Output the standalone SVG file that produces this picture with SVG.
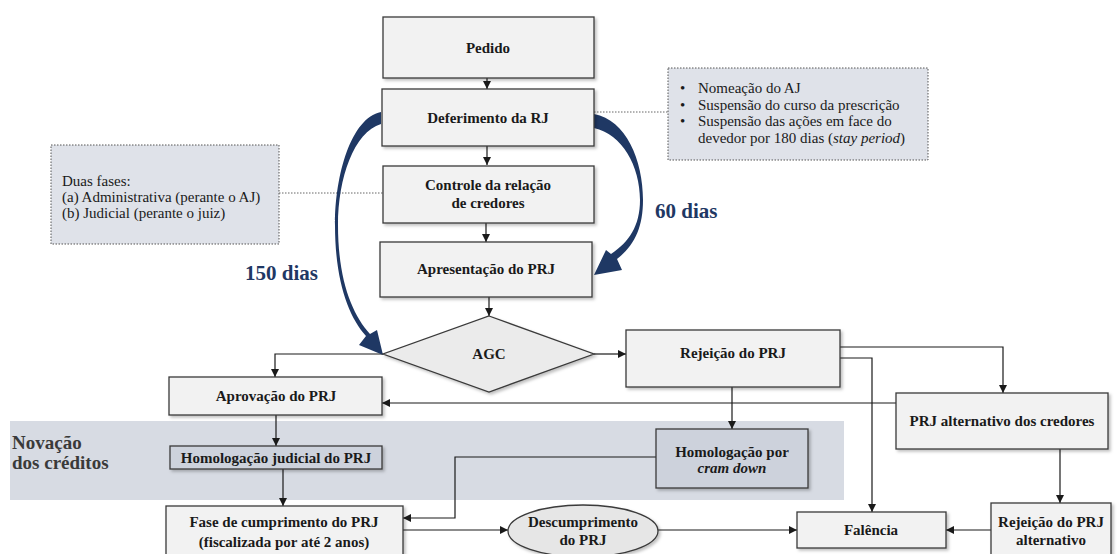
<svg xmlns="http://www.w3.org/2000/svg" width="1118" height="554" viewBox="0 0 1118 554">
<style>
.bx{fill:#f2f2f2;stroke:#3a3a3a;stroke-width:1.3;filter:url(#sh)}
.dk{fill:#cdd2dc;stroke:#3a3a3a;stroke-width:1.3;filter:url(#sh)}
.info{fill:#dfe2e9;stroke:#555;stroke-width:1;stroke-dasharray:1.5 1.5}
.t{font-family:"Liberation Serif",serif;font-weight:bold;font-size:15px;fill:#1a1a1a;text-anchor:middle}
.ti{font-family:"Liberation Serif",serif;font-size:15px;fill:#1a1a1a}
.big{font-family:"Liberation Serif",serif;font-weight:bold;font-size:21px;fill:#1f3864}
.nov{font-family:"Liberation Serif",serif;font-weight:bold;font-size:19px;fill:#3a3a3a}
.ln{fill:none;stroke:#1a1a1a;stroke-width:1.2}
.dot{fill:none;stroke:#666;stroke-width:1;stroke-dasharray:1.5 1.5}
.cv{fill:#1f3864}
</style>
<defs>
<filter id="sh" x="-10%" y="-20%" width="130%" height="150%">
<feDropShadow dx="2" dy="2" stdDeviation="1.5" flood-color="#000" flood-opacity="0.25"/>
</filter>
<marker id="ah" markerUnits="userSpaceOnUse" markerWidth="9" markerHeight="9" refX="8" refY="4" orient="auto">
<path d="M0,0 L8,4 L0,8 z" fill="#1a1a1a"/>
</marker>
</defs>
<rect x="0" y="0" width="1118" height="554" fill="#fff"/>

<g id="band">
<rect x="10" y="421" width="834" height="79" fill="#d7dbe3"/>
<text class="nov" x="12" y="449">Novação</text>
<text class="nov" x="12" y="469">dos créditos</text>
</g>

<g id="info-right">
<rect class="info" x="668" y="68" width="260" height="92"/>
<text class="ti" x="680" y="93">•</text>
<text class="ti" x="680" y="110">•</text>
<text class="ti" x="680" y="126">•</text>
<text class="ti" x="698" y="93">Nomeação do AJ</text>
<text class="ti" x="698" y="110">Suspensão do curso da prescrição</text>
<text class="ti" x="698" y="126">Suspensão das ações em face do</text>
<text class="ti" x="698" y="143">devedor por 180 dias (<tspan font-style="italic">stay period</tspan>)</text>
</g>

<g id="info-left">
<rect class="info" x="51" y="145" width="228" height="99"/>
<text class="ti" x="62" y="186">Duas fases:</text>
<text class="ti" x="62" y="202">(a) Administrativa (perante o AJ)</text>
<text class="ti" x="62" y="218">(b) Judicial (perante o juiz)</text>
</g>

<g id="connectors">
<path class="dot" d="M594,112 H668"/>
<path class="dot" d="M279,193 H383"/>
<path class="ln" d="M487,78 V89" marker-end="url(#ah)"/>
<path class="ln" d="M487,146 V165" marker-end="url(#ah)"/>
<path class="ln" d="M486,223 V242" marker-end="url(#ah)"/>
<path class="ln" d="M489,297 V316" marker-end="url(#ah)"/>
<path class="ln" d="M594,354 H626" marker-end="url(#ah)"/>
<path class="ln" d="M383,354 H275 V377" marker-end="url(#ah)"/>
<path class="ln" d="M840,347 H1003 V393" marker-end="url(#ah)"/>
<path class="ln" d="M840,358 H872 V512" marker-end="url(#ah)"/>
<path class="ln" d="M732,387 V429" marker-end="url(#ah)"/>
<path class="ln" d="M896,403 H382" marker-end="url(#ah)"/>
<path class="ln" d="M276,415 V446" marker-end="url(#ah)"/>
<path class="ln" d="M283,469 V506" marker-end="url(#ah)"/>
<path class="ln" d="M656,457 H455 V518 H403" marker-end="url(#ah)"/>
<path class="ln" d="M403,530 H508" marker-end="url(#ah)"/>
<path class="ln" d="M658,530 H797" marker-end="url(#ah)"/>
<path class="ln" d="M1060,449 V503" marker-end="url(#ah)"/>
<path class="ln" d="M991,530 H946" marker-end="url(#ah)"/>
<path class="cv" d="M381,112 C351,118 335,175 335,225 C335,280 348,316 366,336 L359,345 L383,355 L377,330 L370,334 C352,314 338,280 338,225 C338,178 354,132 381,124 Z"/>
<path class="cv" d="M594,114 C626,120 643,160 643,200 C643,228 634,246 617,259 L622,270 L594,275 L606,250 L611,254 C629,242 640,226 640,200 C640,166 622,134 594,128 Z"/>
</g>

<text class="big" x="245" y="280">150 dias</text>
<text class="big" x="655" y="218">60 dias</text>

<g id="pedido"><rect class="bx" x="383" y="17" width="211" height="61"/><text class="t" x="488" y="53">Pedido</text></g>
<g id="deferimento"><rect class="bx" x="382" y="89" width="212" height="57"/><text class="t" x="488" y="123">Deferimento da RJ</text></g>
<g id="controle"><rect class="bx" x="383" y="166" width="211" height="57"/><text class="t" x="488" y="190">Controle da relação</text><text class="t" x="488" y="208">de credores</text></g>
<g id="apresentacao"><rect class="bx" x="380" y="242" width="212" height="55"/><text class="t" x="486" y="274">Apresentação do PRJ</text></g>
<g id="agc"><path d="M489,316 L594,354 L489,392 L383,354 Z" fill="#ebebeb" stroke="#3a3a3a" stroke-width="1.3" filter="url(#sh)"/><text class="t" x="489" y="359">AGC</text></g>
<g id="rejeicao"><rect class="bx" x="626" y="330" width="214" height="57"/><text class="t" x="733" y="358">Rejeição do PRJ</text></g>
<g id="prj-alt"><rect class="bx" x="896" y="393" width="212" height="56"/><text class="t" x="1002" y="426">PRJ alternativo dos credores</text></g>
<g id="aprovacao"><rect class="bx" x="169" y="377" width="213" height="38"/><text class="t" x="276" y="401">Aprovação do PRJ</text></g>
<g id="homolog-judicial"><rect class="dk" x="170" y="446" width="212" height="23"/><text class="t" x="276" y="463">Homologação judicial do PRJ</text></g>
<g id="cram-down"><rect class="dk" x="656" y="429" width="152" height="59"/><text class="t" x="732" y="457">Homologação por</text><text class="t" x="732" y="473" font-style="italic">cram down</text></g>
<g id="fase"><rect class="bx" x="166" y="506" width="237" height="56"/><text class="t" x="284" y="527">Fase de cumprimento do PRJ</text><text class="t" x="284" y="547">(fiscalizada por até 2 anos)</text></g>
<g id="descumprimento"><ellipse cx="583" cy="531" rx="75" ry="26" fill="#e6e6e6" stroke="#3a3a3a" stroke-width="1.3" filter="url(#sh)"/><text class="t" x="583" y="527">Descumprimento</text><text class="t" x="583" y="545">do PRJ</text></g>
<g id="falencia"><rect class="bx" x="797" y="512" width="149" height="36"/><text class="t" x="871" y="535">Falência</text></g>
<g id="rejeicao-alt"><rect class="bx" x="991" y="503" width="120" height="58"/><text class="t" x="1051" y="527">Rejeição do PRJ</text><text class="t" x="1051" y="545">alternativo</text></g>
</svg>
